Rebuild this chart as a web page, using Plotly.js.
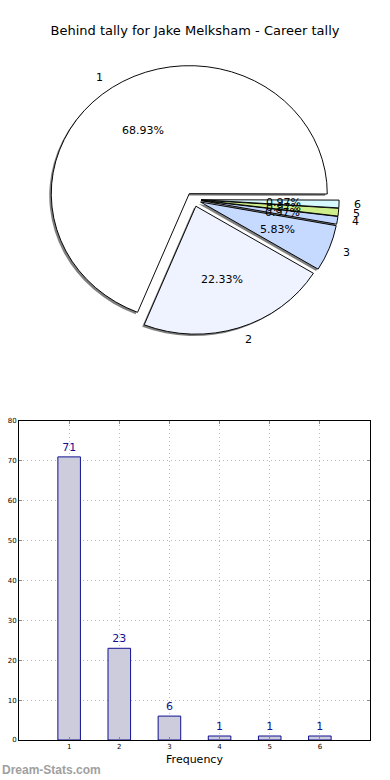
<!DOCTYPE html>
<html><head><meta charset="utf-8">
<script src="https://cdn.plot.ly/plotly-3.0.1.min.js"></script>
<style>html,body{margin:0;padding:0;background:#fff}#chart{width:390px;height:780px}</style>
</head><body><div id="chart"></div>
<script>
var categories = ["1", "2", "3", "4", "5", "6"];
var counts = [71, 23, 6, 1, 1, 1];
var percentLabels = ["68.93%", "22.33%", "5.83%", "0.97%", "0.97%", "0.97%"];
var sliceColors = ["#ffffff", "#eef3ff", "#c6d9ff", "#c0d6ff", "#cdee8a", "#d6f8ff"];
var yTicks = [0, 10, 20, 30, 40, 50, 60, 70, 80];

var W = 390, H = 780;
var cx = 193.5, cy = 199.5, Rh = 138, Rv = 128, pull = 0.055, span = 1.3;
var k = Rv / Rh;
var font = "DejaVu Sans, sans-serif";
var rot = 202;

function dom(dx, dy) {
  var h = Rh * (1 + pull);
  return {x: [(cx + dx - h) / W, (cx + dx + h) / W], y: [1 - (cy + dy + h) / H, 1 - (cy + dy - h) / H]};
}
var pulls = categories.map(function(){ return pull; });

// mid-angles of the wedges (counterclockwise from 3 o'clock), from the counts
var total = counts.reduce(function(a, b){ return a + b; }, 0);
var midAngles = [];
(function(){ var acc = 0; counts.forEach(function(v){ midAngles.push((acc + v / 2) / total * 2 * Math.PI); acc += v; }); })();
function ringX(f){ return midAngles.map(function(a){ return (f + pull) * Math.cos(a); }); }
function ringY(f){ return midAngles.map(function(a){ return (f + pull) * Math.sin(a); }); }

var shadow = {
  type: "pie", labels: categories, values: counts, sort: false,
  direction: "counterclockwise", rotation: rot, pull: pulls,
  domain: dom(-2, 2),
  marker: {colors: categories.map(function(){ return "rgba(0,0,0,0.5)"; }), line: {width: 0}},
  textinfo: "none", hoverinfo: "skip", showlegend: false
};
var main = {
  type: "pie", labels: categories, values: counts, sort: false,
  direction: "counterclockwise", rotation: rot, pull: pulls,
  domain: dom(0, 0),
  marker: {colors: sliceColors, line: {color: "#000", width: 1}},
  textinfo: "none", hoverinfo: "skip", showlegend: false
};
var bars = {
  type: "bar", x: categories.map(Number), y: counts, width: 0.45,
  xaxis: "x", yaxis: "y",
  marker: {color: "#ccccdd", line: {color: "#101090", width: 1}},
  text: counts.map(String), textposition: "outside", cliponaxis: false,
  textfont: {family: font, size: 11, color: "#101090"},
  hoverinfo: "skip", showlegend: false
};

var annotations = [];
var px = ringX(0.6), py = ringY(0.6), lx = ringX(1.1), ly = ringY(1.1);
percentLabels.forEach(function(t, i){
  annotations.push({text: t, xref: "x3", yref: "y3", x: px[i], y: py[i], xanchor: "center", yanchor: "middle",
                    showarrow: false, borderpad: 0, font: {family: font, size: 11, color: "#000"}});
});
categories.forEach(function(t, i){
  annotations.push({text: t, xref: "x3", yref: "y3", x: lx[i], y: ly[i], xanchor: lx[i] < 0 ? "right" : "left",
                    yanchor: "middle", showarrow: false, borderpad: 0, font: {family: font, size: 11, color: "#000"}});
});
annotations.push({text: "<b>Dream-Stats.com</b>", xref: "paper", yref: "paper", x: 0, y: 1 - 770 / H,
                  xanchor: "left", yanchor: "middle", showarrow: false,
                  font: {family: "Liberation Sans, Arial, sans-serif", size: 12, color: "#a0a0a0"}});

var layout = {
  width: W, height: H, margin: {l: 0, r: 0, t: 0, b: 0},
  paper_bgcolor: "#fff", plot_bgcolor: "rgba(0,0,0,0)",
  font: {family: font, color: "#000"},
  title: {text: "Behind tally for Jake Melksham - Career tally", font: {family: font, size: 13, color: "#000"},
          x: 0.5, xanchor: "center", y: 1 - 30 / H, yanchor: "middle", yref: "container"},
  xaxis: {domain: [19 / W, 370 / W], range: [0, 7], tickvals: [1, 2, 3, 4, 5, 6],
          ticks: "inside", ticklen: 3, tickcolor: "#888", showline: true, mirror: "ticks", linecolor: "#000", linewidth: 1,
          showgrid: true, gridcolor: "#bbbbbb", griddash: "1px,3px", zeroline: false, layer: "above traces",
          tickfont: {family: font, size: 7, color: "#000"},
          title: {text: "Frequency", font: {family: font, size: 11, color: "#000"}, standoff: 4}},
  yaxis: {domain: [1 - 740 / H, 1 - 421 / H], range: [0, 80], tickvals: yTicks,
          ticks: "inside", ticklen: 3, tickcolor: "#888", showline: true, mirror: "ticks", linecolor: "#000", linewidth: 1,
          showgrid: true, gridcolor: "#bbbbbb", griddash: "1px,3px", zeroline: false, layer: "above traces",
          tickfont: {family: font, size: 7, color: "#000"}},
  xaxis3: {domain: [(cx - span * Rh) / W, (cx + span * Rh) / W], range: [-span, span], visible: false, fixedrange: true, anchor: "y3"},
  yaxis3: {domain: [1 - (cy + span * Rv) / H, 1 - (cy - span * Rv) / H], range: [-span, span], visible: false, fixedrange: true, anchor: "x3"},
  annotations: annotations
};
Plotly.newPlot("chart", [shadow, main, bars], layout, {displayModeBar: false, staticPlot: true}).then(function(gd){
  // squash the pie vertically about its centre (the reference pie is an ellipse)
  gd.querySelectorAll(".pielayer .trace").forEach(function(g){
    g.setAttribute("transform", "matrix(1,0,0," + k + ",0," + (cy * (1 - k)) + ")");
  });
});
</script></body></html>
